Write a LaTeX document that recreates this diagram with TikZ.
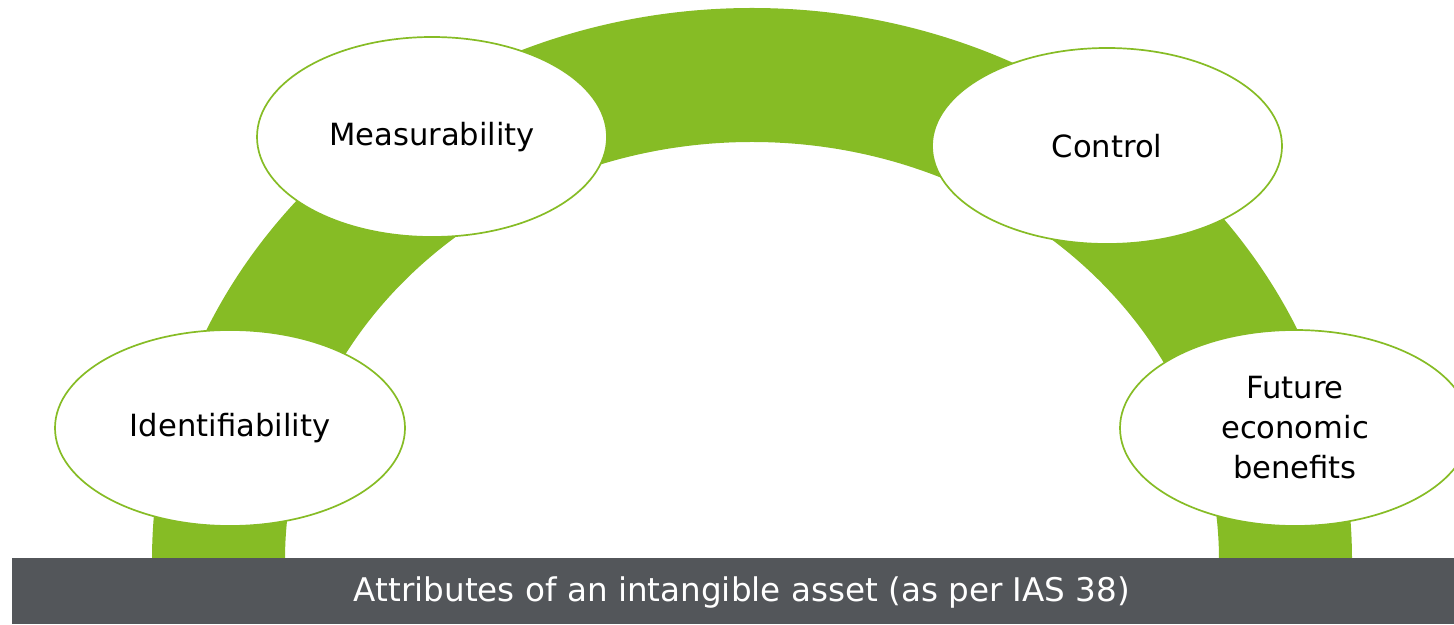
\documentclass[tikz,border=0pt]{standalone}
\usepackage{fontspec}
\setmainfont{DejaVu Sans}
\usetikzlibrary{shapes.geometric}
\definecolor{arcgreen}{HTML}{86BC25}
\definecolor{bargray}{HTML}{53565A}

\begin{document}
\begin{tikzpicture}[
      x=1pt,y=1pt,
      attribute/.style={
        ellipse,
        draw=arcgreen,
        line width=1.7pt,
        fill=white,
        inner sep=0pt,
        minimum width=350pt,
        minimum height=196pt,
        align=center,
        font=\fontsize{30.6}{40}\selectfont
      },
      caption/.style={
        text=white,
        font=\fontsize{32.6}{38}\selectfont
      }
    ]
    \useasboundingbox (0,0) rectangle (1454,624);
    \clip (0,0) rectangle (1454,624);

    % the arch
    \fill[arcgreen] (152,64) arc[start angle=180,end angle=0,x radius=600,y radius=552]
      -- (1219,64) arc[start angle=0,end angle=180,x radius=467,y radius=418] -- cycle;

    \node[attribute] (ident) at (230,196) {Identifiability};
    \node[attribute,minimum height=200pt] (meas) at (432,487) {Measurability};
    \node[attribute] (ctrl) at (1107,478) {Control};
    \node[attribute] (future) at (1295,196) {Future\\economic\\benefits};

    % bottom bar
    \fill[bargray] (12,0) rectangle (1454,66);
    \node[caption] (title) at (742,31) {Attributes of an intangible asset (as per IAS 38)};

  \end{tikzpicture}
\end{document}
